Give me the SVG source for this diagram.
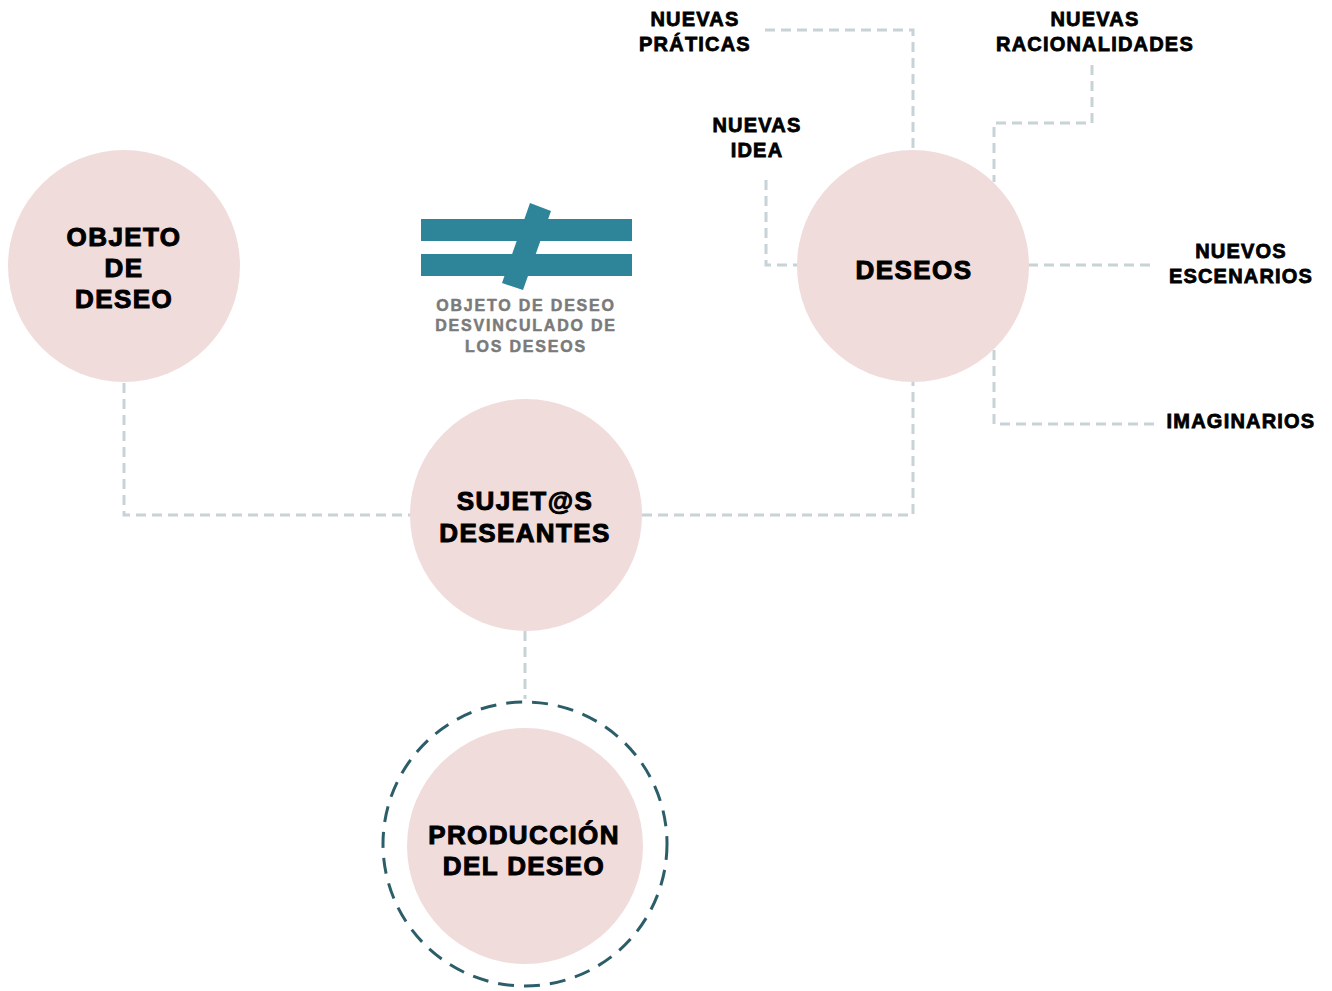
<svg xmlns="http://www.w3.org/2000/svg" width="1332" height="991" viewBox="0 0 1332 991">
<style>
.node{fill:#f1dcdc;}
.conn{fill:none;stroke:#c7d3d6;stroke-width:3;stroke-dasharray:10 6;}
.ring{fill:none;stroke:#2b5e69;stroke-width:3;stroke-dasharray:16 10;}
.nt{font-family:"Liberation Sans",Arial,sans-serif;font-weight:bold;font-size:26px;letter-spacing:1.4px;fill:#000;stroke:#000;stroke-width:1;text-anchor:middle;}
.lt{font-family:"Liberation Sans",Arial,sans-serif;font-weight:bold;font-size:20px;letter-spacing:1.2px;fill:#000;stroke:#000;stroke-width:0.8;text-anchor:middle;}
.gt{font-family:"Liberation Sans",Arial,sans-serif;font-weight:bold;font-size:16px;letter-spacing:1.8px;fill:#7a7a7a;stroke:#7a7a7a;stroke-width:0.5;text-anchor:middle;}
.teal{fill:#2e8499;}
</style>
<rect width="1332" height="991" fill="#ffffff"/>
<g id="connectors">
<path class="conn" d="M124 383 V515 H411"/>
<path class="conn" d="M642 515 H913 V381"/>
<path class="conn" d="M525 631 V699"/>
<path class="conn" d="M765 30 H913 V150"/>
<path class="conn" d="M766 180 V265 H797"/>
<path class="conn" d="M1092 65 V123 H994 V182"/>
<path class="conn" d="M1028 265 H1155"/>
<path class="conn" d="M994 350 V424 H1155"/>
</g>
<g id="objeto">
<circle class="node" cx="124" cy="266" r="116"/>
<text class="nt" x="124" y="246">OBJETO</text>
<text class="nt" x="124" y="277">DE</text>
<text class="nt" x="124" y="308">DESEO</text>
</g>
<g id="deseos">
<circle class="node" cx="913" cy="266" r="116"/>
<text class="nt" x="914" y="279">DESEOS</text>
</g>
<g id="sujetos">
<circle class="node" cx="526" cy="515" r="116"/>
<text class="nt" x="525" y="510">SUJET@S</text>
<text class="nt" x="525" y="542">DESEANTES</text>
</g>
<g id="produccion">
<circle class="ring" cx="525" cy="844" r="142"/>
<circle class="node" cx="525" cy="846" r="118"/>
<text class="nt" x="524" y="844">PRODUCCIÓN</text>
<text class="nt" x="524" y="875">DEL DESEO</text>
</g>
<g id="desvinculado">
<rect class="teal" x="421" y="219" width="211" height="22"/>
<rect class="teal" x="421" y="254" width="211" height="22"/>
<polygon class="teal" points="530,203 551,211 523,290 502,283"/>
<text class="gt" x="526" y="311">OBJETO DE DESEO</text>
<text class="gt" x="526" y="331">DESVINCULADO DE</text>
<text class="gt" x="526" y="352">LOS DESEOS</text>
</g>
<g id="practicas">
<text class="lt" x="695" y="26">NUEVAS</text>
<text class="lt" x="695" y="51">PRÁTICAS</text>
</g>
<g id="idea">
<text class="lt" x="757" y="132">NUEVAS</text>
<text class="lt" x="757" y="157">IDEA</text>
</g>
<g id="racionalidades">
<text class="lt" x="1095" y="26">NUEVAS</text>
<text class="lt" x="1095" y="51">RACIONALIDADES</text>
</g>
<g id="escenarios">
<text class="lt" x="1241" y="258">NUEVOS</text>
<text class="lt" x="1241" y="283">ESCENARIOS</text>
</g>
<g id="imaginarios">
<text class="lt" x="1241" y="428">IMAGINARIOS</text>
</g>
</svg>
